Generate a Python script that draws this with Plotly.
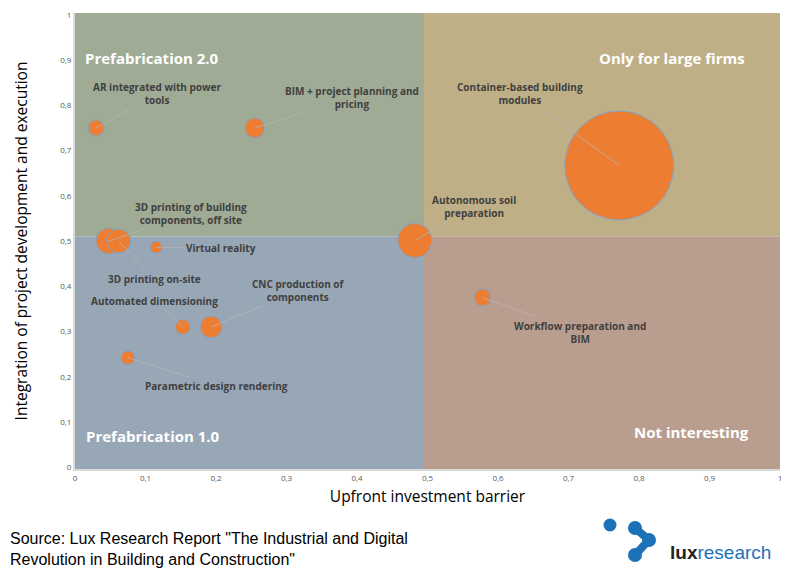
import plotly.graph_objects as go

# technologies on the matrix
names = ["AR integrated with power<br>tools", "BIM + project planning and<br>pricing",
         "3D printing of building<br>components, off site", "3D printing on-site",
         "Virtual reality", "Autonomous soil<br>preparation", "Container-based building<br>modules",
         "Workflow preparation and<br>BIM", "Automated dimensioning",
         "CNC production of<br>components", "Parametric design rendering"]
barrier = [0.03, 0.255, 0.048, 0.062, 0.115, 0.482, 0.772, 0.578, 0.153, 0.193, 0.075]
integration = [0.75, 0.75, 0.5, 0.5, 0.486, 0.501, 0.667, 0.375, 0.31, 0.31, 0.242]
bubble = [16, 20, 26, 24, 12, 34, 109, 17, 15, 22, 14]

# label offsets (px) from each bubble
label_dx = [61, 97, 82, 36, 65, 59, -99, 98, -28, 87, 89]
label_dy = [-34, -30, -28, 38, 1, -34, -72, 35, -26, -36, 28]

x_split = 0.495
y_split = 0.51

fig = go.Figure()

quads = [
    (0, x_split, y_split, 1.004, "#9FAB94"),
    (x_split, 1, y_split, 1.004, "#BFAF86"),
    (0, x_split, -0.004, y_split, "#98A7B5"),
    (x_split, 1, -0.004, y_split, "#B99E8F"),
]
for x0, x1, y0, y1, c in quads:
    fig.add_shape(type="rect", xref="x", yref="y", x0=x0, x1=x1, y0=y0, y1=y1,
                  fillcolor=c, line_width=0, layer="below")

fig.add_trace(go.Scatter(
    x=barrier, y=integration, mode="markers",
    marker=dict(size=bubble, sizemode="diameter", color="#ED7D31", opacity=1,
                line=dict(color="#7FA6CF", width=1)),
    hoverinfo="skip", showlegend=False))

for i, n in enumerate(names):
    fig.add_annotation(x=barrier[i], y=integration[i], text=n, showarrow=True,
                       arrowhead=0, arrowwidth=0.8, arrowcolor="#B5B5B5",
                       ax=label_dx[i], ay=label_dy[i], standoff=0,
                       font=dict(family="Open Sans", size=10, color="#404040", weight="bold"))

quad_labels = [
    ("Prefabrication 2.0", 0.012, 0.905, "left"),
    ("Only for large firms", 0.847, 0.905, "center"),
    ("Prefabrication 1.0", 0.013, 0.07, "left"),
    ("Not interesting", 0.874, 0.077, "center"),
]
for t, x, y, al in quad_labels:
    fig.add_annotation(x=x, y=y, text=t, showarrow=False, xanchor=al,
                       font=dict(family="Open Sans", size=15, color="white", weight="bold"))


# page pixel -> paper coords (page has an 8px body margin)
def px(x, y):
    return (x - 75) / 705, (469 - y) / 456


sx, sy = px(8, 528)
fig.add_annotation(xref="paper", yref="paper", x=sx, y=sy, xanchor="left", yanchor="top",
                   align="left", showarrow=False,
                   text="Source: Lux Research Report \"The Industrial and Digital<br>Revolution in Building and Construction\"",
                   font=dict(family="Liberation Sans", size=16, color="black"))

# logo
dots = [(610, 525, 6.5), (635, 528, 7), (649, 540, 7), (635, 555, 7)]
for i in range(1, len(dots) - 1):
    a = px(dots[i][0], dots[i][1])
    b = px(dots[i + 1][0], dots[i + 1][1])
    fig.add_shape(type="line", xref="paper", yref="paper", x0=a[0], y0=a[1], x1=b[0], y1=b[1],
                  line=dict(color="#1D71B8", width=8))
for x, y, r in dots:
    p0 = px(x - r, y + r)
    p1 = px(x + r, y - r)
    fig.add_shape(type="circle", xref="paper", yref="paper", x0=p0[0], y0=p0[1], x1=p1[0], y1=p1[1],
                  fillcolor="#1D71B8", line_width=0)
lx, ly = px(668, 552)
fig.add_annotation(xref="paper", yref="paper", x=lx, y=ly, xanchor="left", yanchor="middle",
                   showarrow=False,
                   text="<b><span style='color:#222222'>lux</span></b><span style='color:#1D71B8'>research</span>",
                   font=dict(family="Liberation Sans Narrow, Liberation Sans", size=19))

fig.update_layout(
    width=792, height=568,
    margin=dict(l=67, r=20, t=5, b=107),
    paper_bgcolor="white", plot_bgcolor="white",
    separators=", ",
    xaxis=dict(range=[0, 1], dtick=0.1, showgrid=False, zeroline=False, automargin=False,
               showline=True, linecolor="#D9D9D9", linewidth=2,
               tickfont=dict(family="Open Sans", size=8, color="#595959"),
               title=dict(text="Upfront investment barrier", standoff=10,
                          font=dict(family="Open Sans", size=15.5, color="black"))),
    yaxis=dict(range=[-0.004, 1.004], dtick=0.1, tick0=0, showgrid=False, zeroline=False,
               automargin=False, showline=True, linecolor="#D9D9D9", linewidth=2,
               tickfont=dict(family="Open Sans", size=8, color="#595959"),
               title=dict(text="Integration of project development and execution", standoff=29,
                          font=dict(family="Open Sans", size=15.5, color="black"))),
)

fig.write_html("out.html")
